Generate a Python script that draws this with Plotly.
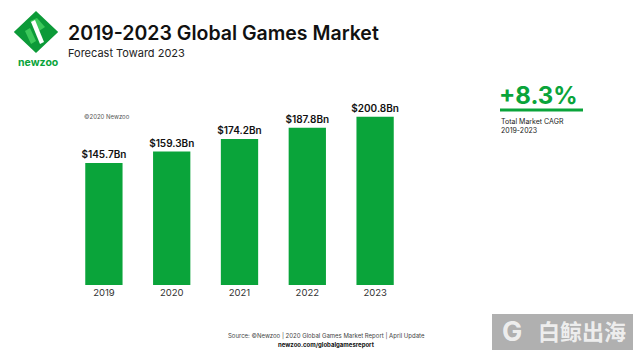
import plotly.graph_objects as go

years = ["2019", "2020", "2021", "2022", "2023"]
revenue_bn = [145.7, 159.3, 174.2, 187.8, 200.8]
labels = ["$145.7Bn", "$159.3Bn", "$174.2Bn", "$187.8Bn", "$200.8Bn"]
cagr_text = "+8.3%"

GREEN = "#0aa43a"
W, H = 640, 360
L, R, T, B = 70, 231, 84, 75   # plot area: x 70..409, y 84..285
pw, ph = W - L - R, H - T - B

def px(x):
    return (x - L) / pw

def py(y):
    return (H - B - y) / ph

fig = go.Figure(go.Bar(
    x=years, y=revenue_bn, text=labels, textposition="outside",
    constraintext="none",
    marker=dict(color=GREEN, line=dict(width=0)),
    textfont=dict(family="Inter", size=10, color="#111111", weight=600),
    cliponaxis=False, hoverinfo="skip",
))

ann = []
def text(x, y, s, size, color="#111", weight="normal", xanchor="left", family="Inter"):
    ann.append(dict(x=px(x), y=py(y), xref="paper", yref="paper", text=s, showarrow=False,
                    xanchor=xanchor, yanchor="middle",
                    font=dict(family=family, size=size, color=color, weight=weight)))

text(66, 33, "2019-2023 Global Games Market", 19.5, "#111", 600)
text(66, 53, "Forecast Toward 2023", 11, "#222")
text(16, 62, "newzoo", 10.5, GREEN, "bold")
text(82, 116, "©2020 Newzoo", 6, "#555")
text(497, 96, cagr_text, 24, GREEN, "bold")
text(499, 121, "Total Market CAGR", 7, "#222")
text(499, 130, "2019-2023", 7, "#222")
text(326, 336, "Source: ©Newzoo | 2020 Global Games Market Report | April Update", 6, "#444", xanchor="center")
text(326, 345, "newzoo.com/globalgamesreport", 6, "#111", "bold", xanchor="center")
text(512, 331, "G", 27, "rgba(255,255,255,0.8)", "bold", xanchor="center")
text(582, 330, "白鲸出海", 22, "rgba(255,255,255,0.8)", "bold", xanchor="center",
     family="Noto Sans CJK SC")

def poly(pts):
    return "M " + " L ".join(f"{px(x):.5f},{py(y):.5f}" for x, y in pts) + " Z"

shapes = [
    # logo diamond
    dict(type="path", xref="paper", yref="paper", line=dict(width=3, color="#0c9a38"), fillcolor="#0c9a38",
         path=poly([(36, 13), (56, 32), (36, 51), (16, 32)])),
    dict(type="path", xref="paper", yref="paper", line=dict(width=0), fillcolor="#3cc85a",
         path=poly([(30, 21), (37, 18), (45, 27), (39, 31)])),
    dict(type="path", xref="paper", yref="paper", line=dict(width=0), fillcolor="#ffffff",
         path=poly([(31, 22), (35, 20), (44, 42), (40, 44)])),
    dict(type="path", xref="paper", yref="paper", line=dict(width=0), fillcolor="#3cc85a",
         path=poly([(25, 31), (30, 28), (36, 41), (31, 44)])),
    # cagr underline
    dict(type="rect", xref="paper", yref="paper", line=dict(width=0), fillcolor=GREEN,
         x0=px(500), x1=px(583), y0=py(111.5), y1=py(108.5)),
    # watermark box
    dict(type="rect", xref="paper", yref="paper", line=dict(width=0),
         fillcolor="rgba(150,150,150,0.75)", layer="above",
         x0=px(492), x1=px(633), y0=py(350), y1=py(314)),
]

fig.update_layout(
    width=W, height=H, margin=dict(l=L, r=R, t=T, b=B),
    paper_bgcolor="white", plot_bgcolor="white",
    bargap=0.45, showlegend=False,
    xaxis=dict(showgrid=False, showline=False, zeroline=False, ticks="",
               tickfont=dict(family="Inter", size=9.5, color="#333")),
    yaxis=dict(range=[0, 240], visible=False),
    annotations=ann, shapes=shapes,
)
fig.write_html("out.html", config={"displayModeBar": False},
               post_script="document.body.style.margin='0';document.body.style.overflow='hidden';")
